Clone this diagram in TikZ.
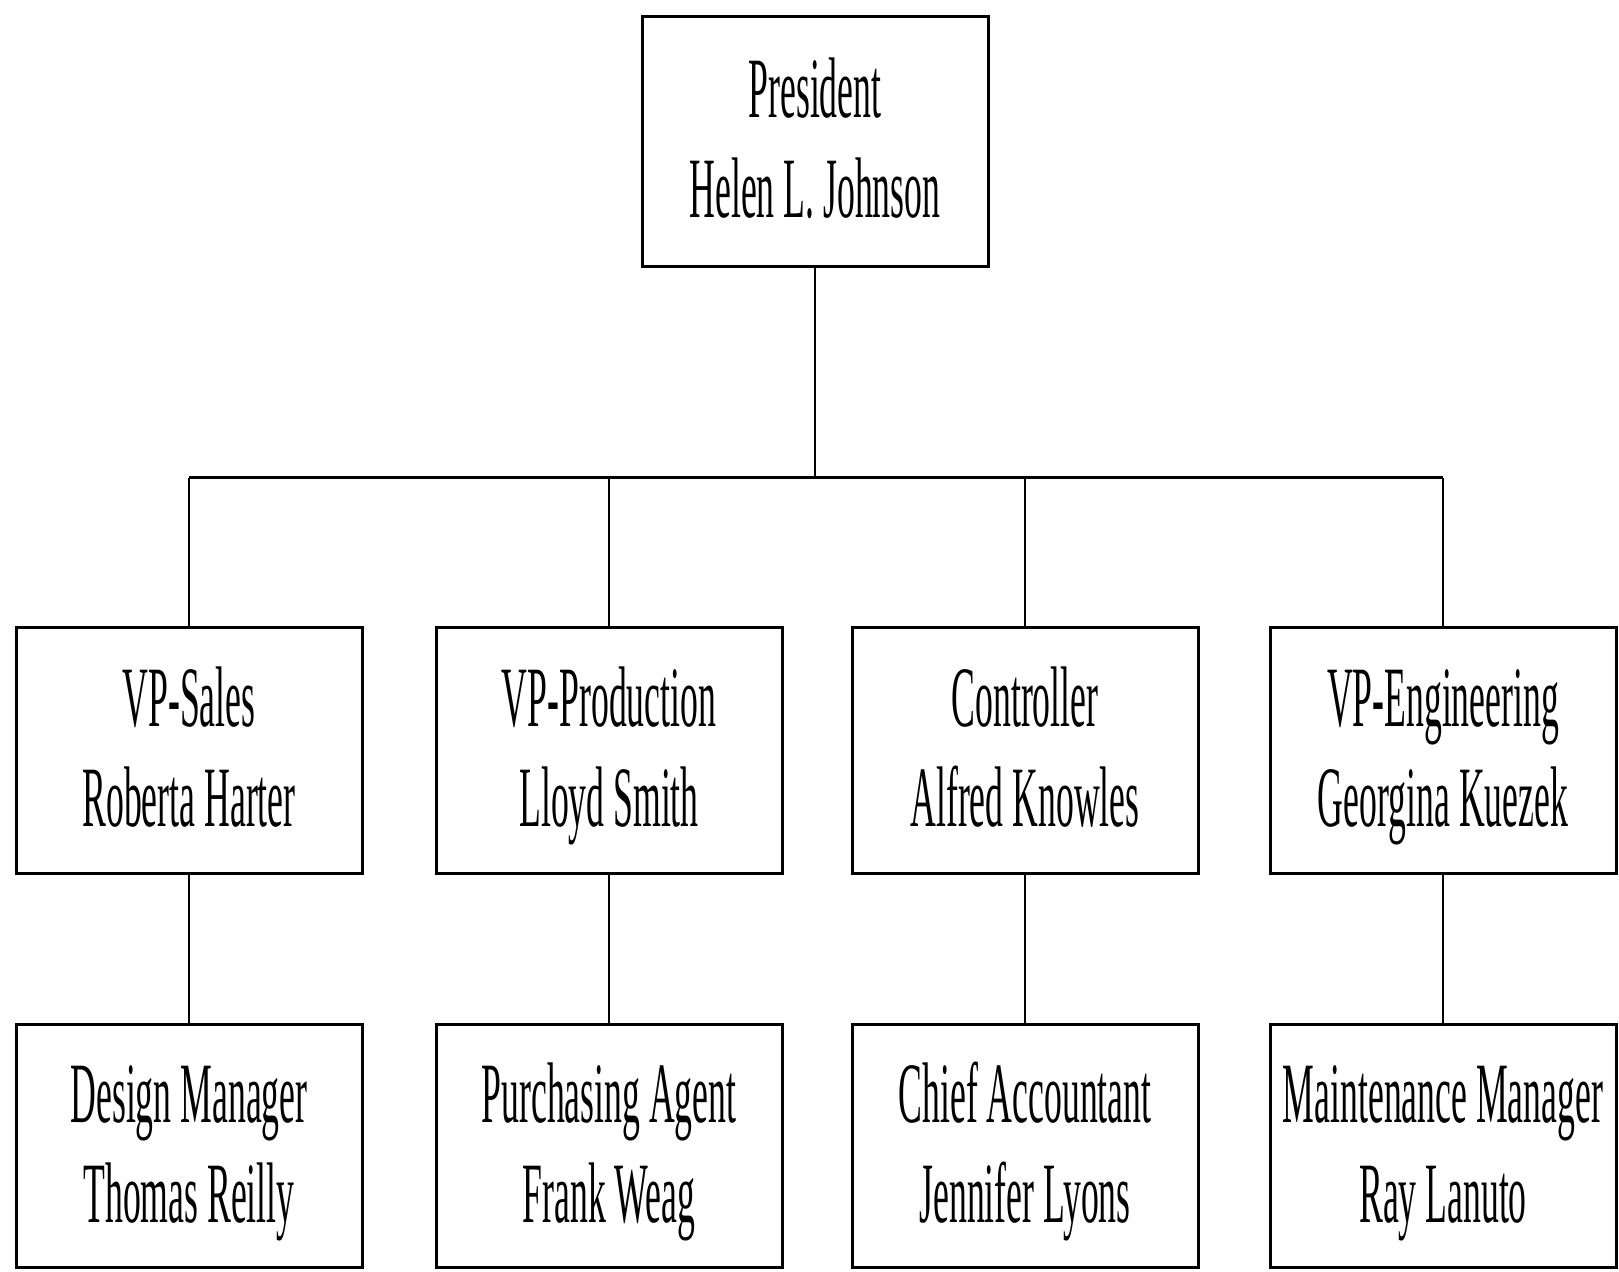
\documentclass[tikz,border=0pt]{standalone}
\usepackage{fontspec}
\setmainfont[FakeStretch=0.415]{Liberation Serif}
\newcommand\lnstrut{\rule[-12pt]{0pt}{50pt}}
\tikzset{
  orgbox/.style={draw=black, line width=1.5pt, fill=white, inner sep=0pt,
    minimum width=173pt, minimum height=123pt, align=center,
    font=\fontsize{43pt}{50pt}\selectfont},
  link/.style={draw=black, line width=1pt},
  barline/.style={draw=black, line width=1.5pt}
}
\begin{document}
\begin{tikzpicture}[x=0.5pt,y=-0.5pt]
\useasboundingbox (0,0) rectangle (1619,1272);
\node[orgbox, minimum height=125pt] (pres) at (815,142) {President\lnstrut\\Helen L. Johnson\lnstrut};

\node[orgbox] (b1) at (189,751) {VP-Sales\lnstrut\\Roberta Harter\lnstrut};
\node[orgbox] (b2) at (609,751) {VP-Production\lnstrut\\Lloyd Smith\lnstrut};
\node[orgbox] (b3) at (1025,751) {Controller\lnstrut\\Alfred Knowles\lnstrut};
\node[orgbox] (b4) at (1443,751) {VP-Engineering\lnstrut\\Georgina Kuezek\lnstrut};

\node[orgbox, minimum height=121pt] (c1) at (189,1146) {Design Manager\lnstrut\\Thomas Reilly\lnstrut};
\node[orgbox, minimum height=121pt] (c2) at (609,1146) {Purchasing Agent\lnstrut\\Frank Weag\lnstrut};
\node[orgbox, minimum height=121pt] (c3) at (1025,1146) {Chief Accountant\lnstrut\\Jennifer Lyons\lnstrut};
\node[orgbox, minimum height=121pt] (c4) at (1443,1146) {Maintenance Manager\lnstrut\\Ray Lanuto\lnstrut};

\coordinate (bar) at (815,478);
\draw[link] (pres.south) -- (pres.south |- bar);
\draw[barline] (b1.north |- bar) -- (b4.north |- bar);
\draw[link] (b1.north |- bar) -- (b1.north);
\draw[link] (b2.north |- bar) -- (b2.north);
\draw[link] (b3.north |- bar) -- (b3.north);
\draw[link] (b4.north |- bar) -- (b4.north);

\draw[link] (b1.south) -- (c1.north);
\draw[link] (b2.south) -- (c2.north);
\draw[link] (b3.south) -- (c3.north);
\draw[link] (b4.south) -- (c4.north);
\end{tikzpicture}
\end{document}
